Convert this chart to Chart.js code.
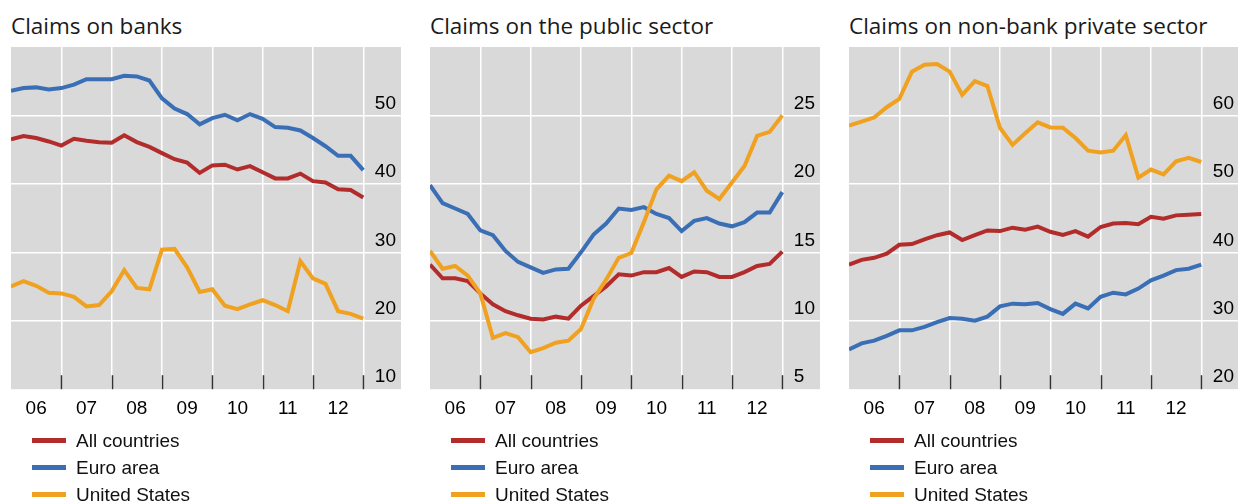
<!DOCTYPE html>
<html>
<head>
<meta charset="utf-8">
<script src="https://cdn.jsdelivr.net/npm/chart.js@4.4.1/dist/chart.umd.min.js"></script>
<style>
body{margin:0;background:#fff;width:1238px;height:503px;overflow:hidden;position:relative;font-family:"Liberation Sans",Arial,sans-serif}
.panel{position:absolute;top:0;width:390px;height:503px}
.title{position:absolute;left:0;top:15px;font-size:22.5px;font-family:"Open Sans",sans-serif;color:#1a1a1a;white-space:nowrap;line-height:1}
.box{position:absolute;left:0;top:47px;width:390px;height:381px}
.legend{position:absolute;left:21px;top:427px;font-size:19px;color:#111}
.legend div{height:27px;display:flex;align-items:center;white-space:nowrap}
.legend span{display:inline-block;width:34px;height:5px;margin-right:10px}
</style>
</head>
<body>
<div class="panel" style="left:11px"><div class="title">Claims on banks</div><div class="box"><canvas id="banks"></canvas></div><div class="legend" id="leg-banks"></div></div>
<div class="panel" style="left:430px"><div class="title">Claims on the public sector</div><div class="box"><canvas id="public"></canvas></div><div class="legend" id="leg-public"></div></div>
<div class="panel" style="left:849px"><div class="title">Claims on non-bank private sector</div><div class="box"><canvas id="private"></canvas></div><div class="legend" id="leg-private"></div></div>
<script>
var yearLabels = ["06", "07", "08", "09", "10", "11", "12"];
var seriesNames = ["All countries", "Euro area", "United States"];
var seriesColors = ["#b22c2c", "#3a6fb6", "#efa11f"];

// claims on banks, quarterly 2005 Q4 - 2012 Q4
var banksAll = [46.5, 47.0, 46.7, 46.2, 45.6, 46.6, 46.3, 46.1, 46.0, 47.1, 46.1, 45.4, 44.5, 43.6, 43.1, 41.6, 42.7, 42.8, 42.1, 42.6, 41.7, 40.8, 40.8, 41.5, 40.4, 40.2, 39.2, 39.1, 38.0];
var banksEuro = [53.6, 54.0, 54.1, 53.8, 54.0, 54.5, 55.3, 55.3, 55.3, 55.8, 55.7, 55.1, 52.5, 51.0, 50.2, 48.7, 49.6, 50.1, 49.3, 50.2, 49.5, 48.3, 48.2, 47.8, 46.7, 45.5, 44.1, 44.1, 42.0];
var banksUS = [25.0, 25.8, 25.1, 24.1, 24.0, 23.5, 22.1, 22.3, 24.3, 27.4, 24.8, 24.6, 30.4, 30.5, 27.8, 24.2, 24.6, 22.2, 21.7, 22.4, 23.0, 22.3, 21.4, 28.7, 26.2, 25.4, 21.4, 21.0, 20.3];

// claims on the public sector
var publicAll = [14.1, 13.1, 13.1, 12.9, 12.0, 11.2, 10.7, 10.4, 10.15, 10.1, 10.3, 10.15, 11.1, 11.8, 12.5, 13.4, 13.3, 13.55, 13.55, 13.85, 13.2, 13.6, 13.55, 13.2, 13.2, 13.55, 14.0, 14.15, 15.05];
var publicEuro = [19.9, 18.6, 18.2, 17.8, 16.6, 16.25, 15.1, 14.3, 13.9, 13.5, 13.75, 13.8, 15.0, 16.3, 17.1, 18.2, 18.1, 18.3, 17.8, 17.5, 16.55, 17.3, 17.5, 17.1, 16.9, 17.2, 17.9, 17.9, 19.4];
var publicUS = [15.1, 13.8, 14.0, 13.3, 12.0, 8.75, 9.1, 8.8, 7.7, 8.0, 8.4, 8.55, 9.4, 11.6, 13.0, 14.6, 14.95, 17.2, 19.6, 20.6, 20.2, 20.85, 19.5, 18.9, 20.1, 21.3, 23.5, 23.8, 25.0];

// claims on non-bank private sector
var privateAll = [38.2, 38.9, 39.2, 39.8, 41.1, 41.2, 41.9, 42.5, 42.9, 41.8, 42.5, 43.2, 43.1, 43.6, 43.3, 43.75, 43.0, 42.55, 43.1, 42.3, 43.7, 44.2, 44.3, 44.1, 45.2, 44.9, 45.4, 45.5, 45.6];
var privateEuro = [25.8, 26.7, 27.1, 27.8, 28.6, 28.6, 29.1, 29.8, 30.4, 30.3, 30.0, 30.6, 32.1, 32.5, 32.4, 32.6, 31.7, 31.0, 32.5, 31.8, 33.5, 34.1, 33.85, 34.7, 35.9, 36.6, 37.4, 37.6, 38.2];
var privateUS = [58.5, 59.1, 59.7, 61.2, 62.4, 66.4, 67.4, 67.5, 66.4, 63.0, 65.0, 64.3, 58.2, 55.7, 57.4, 59.0, 58.25, 58.2, 56.7, 54.85, 54.6, 54.85, 57.1, 50.9, 52.1, 51.4, 53.3, 53.8, 53.2];

var panelBits = {
  id: "panelBits",
  beforeDraw: function (chart) {
    var a = chart.chartArea, c = chart.ctx;
    c.save();
    c.fillStyle = "#d9d9d9";
    c.fillRect(a.left, a.top, a.right - a.left, a.bottom - a.top);
    c.restore();
  },
  afterDraw: function (chart) {
    var a = chart.chartArea, c = chart.ctx, xs = chart.scales.x;
    c.save();
    c.strokeStyle = "#333";
    c.lineWidth = 1.5;
    for (var q = 4; q <= 28; q += 4) {
      var px = Math.round(xs.getPixelForValue(q)) + 0.5;
      c.beginPath();
      c.moveTo(px, a.bottom - 14);
      c.lineTo(px, a.bottom);
      c.stroke();
    }
    c.restore();
  }
};

function toPoints(arr) {
  return arr.map(function (v, i) { return {x: i, y: v}; });
}

// chart area should fill the canvas edge to edge
function noPad(scale) {
  scale.paddingLeft = 0;
  scale.paddingRight = 0;
  scale.paddingTop = 0;
  scale.paddingBottom = 0;
}

function makeChart(id, all, euro, us, yMin, yMax, yStep) {
  var sets = [all, euro, us];
  new Chart(id, {
    type: "line",
    data: {
      datasets: sets.map(function (s, i) {
        return {
          label: seriesNames[i],
          data: toPoints(s),
          borderColor: seriesColors[i],
          backgroundColor: seriesColors[i],
          borderWidth: 4,
          pointRadius: 0,
          tension: 0,
          order: 3 - i
        };
      })
    },
    options: {
      responsive: true,
      maintainAspectRatio: false,
      animation: false,
      layout: {padding: 0},
      plugins: {legend: {display: false}, tooltip: {enabled: false}},
      scales: {
        x: {
          type: "linear",
          min: 0,
          max: 31,
          afterBuildTicks: function (scale) {
            var t = [];
            for (var v = 0; v <= 30; v += 2) t.push({value: v});
            scale.ticks = t;
          },
          afterFit: noPad,
          border: {display: false},
          grid: {
            drawTicks: false,
            lineWidth: 1.5,
            color: function (ctx) {
              var v = ctx.tick ? ctx.tick.value : 0;
              return (v % 4 === 0 && v > 0 && v <= 28) ? "#ffffff" : "rgba(0,0,0,0)";
            }
          },
          ticks: {
            padding: 8,
            maxRotation: 0,
            autoSkip: false,
            color: "#000",
            font: {family: "'Liberation Sans', Arial, sans-serif", size: 19},
            callback: function (v) {
              return (v % 4 === 2 && v <= 26) ? yearLabels[(v - 2) / 4] : "";
            }
          }
        },
        y: {
          position: "right",
          min: yMin,
          max: yMax,
          afterFit: function (scale) {
            noPad(scale);
            scale.width = 0;
          },
          border: {display: false},
          grid: {
            drawTicks: false,
            lineWidth: 1.5,
            color: function (ctx) {
              var v = ctx.tick ? ctx.tick.value : 0;
              return (v > yMin && v < yMax) ? "#ffffff" : "rgba(0,0,0,0)";
            }
          },
          ticks: {
            stepSize: yStep,
            mirror: true,
            crossAlign: "far",
            padding: -5,
            labelOffset: -12,
            color: "#000",
            font: {family: "'Liberation Sans', Arial, sans-serif", size: 19},
            callback: function (v) { return v === yMax ? "" : v; }
          }
        }
      }
    },
    plugins: [panelBits]
  });

  var leg = document.getElementById("leg-" + id);
  seriesNames.forEach(function (n, i) {
    var row = document.createElement("div");
    var sw = document.createElement("span");
    sw.style.background = seriesColors[i];
    row.appendChild(sw);
    row.appendChild(document.createTextNode(n));
    leg.appendChild(row);
  });
}

makeChart("banks", banksAll, banksEuro, banksUS, 10, 60, 10);
makeChart("public", publicAll, publicEuro, publicUS, 5, 30, 5);
makeChart("private", privateAll, privateEuro, privateUS, 20, 70, 10);
</script>
</body>
</html>
